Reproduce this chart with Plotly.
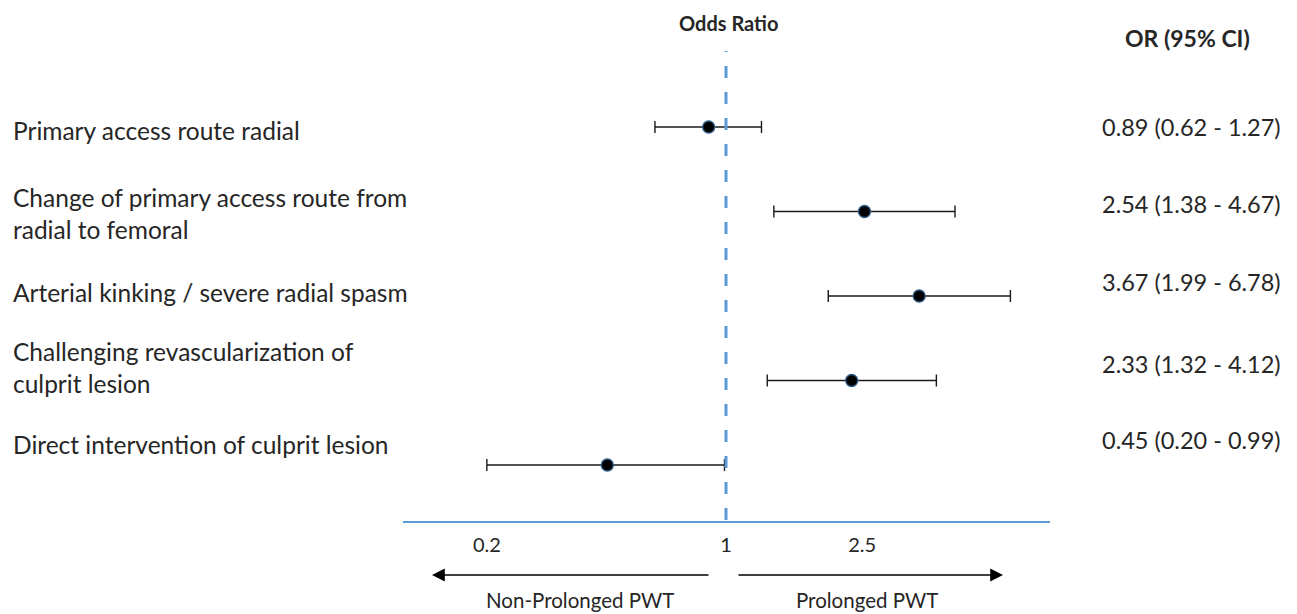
import math
import plotly.graph_objects as go

# ---- data ----
labels = [
    "Primary access route radial",
    "Change of primary access route from<br>radial to femoral",
    "Arterial kinking / severe radial spasm",
    "Challenging revascularization of<br>culprit lesion",
    "Direct intervention of culprit lesion",
]
odds_ratio = [0.89, 2.54, 3.67, 2.33, 0.45]
ci_low = [0.62, 1.38, 1.99, 1.32, 0.20]
ci_high = [1.27, 4.67, 6.78, 4.12, 0.99]
tick_vals = [0.2, 1, 2.5]
tick_text = ["0.2", "1", "2.5"]

# ---- layout helpers (pixel geometry) ----
W, H = 1297, 614
L, R, T, B = 403, 1050, 50, 521
pw, ph = R - L, B - T

def px(x):
    return (x - L) / pw

def py(y):
    return (B - y) / ph

left_shift = [-4, -2, 3, 13, 20]
right_shift = [0, 7, 14, 16, 25]
FONT = "Lato, Calibri, Arial, sans-serif"
TXT = "#262626"
BLUE = "#5B9BD5"

ys = list(range(len(labels)))

fig = go.Figure()
fig.add_trace(go.Scatter(
    x=odds_ratio, y=ys, mode="markers",
    marker=dict(size=12, color="black", line=dict(color="#2E5C8A", width=1.3)),
    error_x=dict(type="data", symmetric=False,
                 array=[h - o for h, o in zip(ci_high, odds_ratio)],
                 arrayminus=[o - l for o, l in zip(odds_ratio, ci_low)],
                 color="#1a1a1a", thickness=1.4, width=6),
    hoverinfo="skip", showlegend=False,
))

# reference line at OR = 1
fig.add_shape(type="line", xref="x", yref="paper", x0=1, x1=1, y0=py(520), y1=py(51),
              line=dict(color=BLUE, width=3, dash="12px,14px"))

ann = []
for i, lab in enumerate(labels):
    ann.append(dict(xref="paper", yref="y", x=px(11), y=i, yshift=left_shift[i],
                    text=lab, showarrow=False, xanchor="left", yanchor="middle", align="left",
                    font=dict(family=FONT, size=24.5, color=TXT)))
    txt = f"{odds_ratio[i]:.2f} ({ci_low[i]:.2f} - {ci_high[i]:.2f})"
    ann.append(dict(xref="paper", yref="y", x=px(1283), y=i, yshift=right_shift[i],
                    text=txt, showarrow=False, xanchor="right", yanchor="middle",
                    font=dict(family=FONT, size=23.5, color=TXT)))

ann.append(dict(xref="paper", yref="paper", x=px(728), y=py(23), text="<b>Odds Ratio</b>",
                showarrow=False, xanchor="center", yanchor="middle",
                font=dict(family=FONT, size=20, color=TXT)))
ann.append(dict(xref="paper", yref="paper", x=px(1187), y=py(38), text="<b>OR (95% CI)</b>",
                showarrow=False, xanchor="center", yanchor="middle",
                font=dict(family=FONT, size=23, color=TXT)))

# direction arrows
ann.append(dict(xref="paper", yref="paper", x=px(432), y=py(575), ax=710 - 432, ay=0,
                text="", showarrow=True, arrowhead=2, arrowsize=1.6, arrowwidth=1.6,
                arrowcolor="black"))
ann.append(dict(xref="paper", yref="paper", x=px(1003), y=py(575), ax=737 - 1003, ay=0,
                text="", showarrow=True, arrowhead=2, arrowsize=1.6, arrowwidth=1.6,
                arrowcolor="black"))
ann.append(dict(xref="paper", yref="paper", x=px(580), y=py(600), text="Non-Prolonged PWT",
                showarrow=False, xanchor="center", yanchor="middle",
                font=dict(family=FONT, size=20.5, color=TXT)))
ann.append(dict(xref="paper", yref="paper", x=px(867), y=py(600), text="Prolonged PWT",
                showarrow=False, xanchor="center", yanchor="middle",
                font=dict(family=FONT, size=20.5, color=TXT)))

fig.update_layout(
    width=W, height=H,
    margin=dict(l=L, r=W - R, t=T, b=H - B),
    paper_bgcolor="white", plot_bgcolor="white",
    annotations=ann,
    xaxis=dict(type="log", range=[-0.944, 0.947], tickvals=tick_vals, ticktext=tick_text,
               showgrid=False, zeroline=False, showline=True, linecolor=BLUE, linewidth=1.5,
               ticks="", ticklabelstandoff=5,
               tickfont=dict(family=FONT, size=20, color=TXT), fixedrange=True),
    yaxis=dict(range=[4.663, -0.911], visible=False, showgrid=False, zeroline=False,
               fixedrange=True),
)

fig.write_html("out.html", config={"displayModeBar": False},
               post_script="document.body.style.margin='0';document.body.style.overflow='hidden';")
